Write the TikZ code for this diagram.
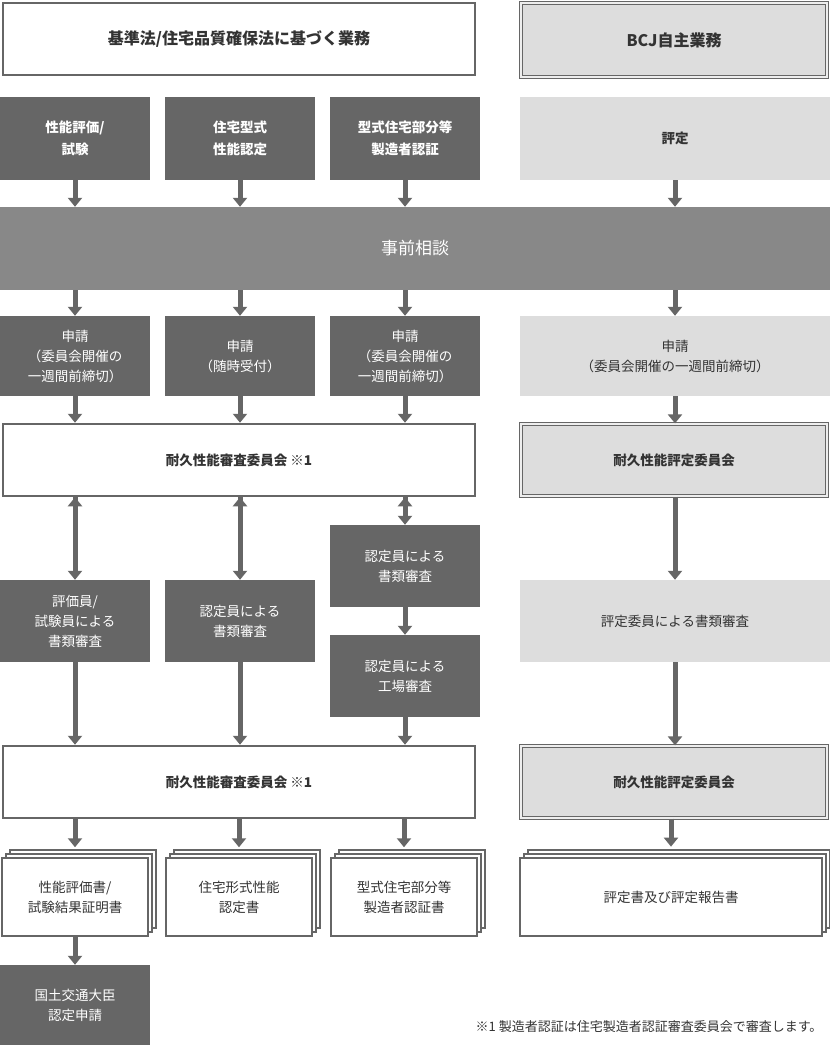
\documentclass[tikz,border=0pt]{standalone}
\usepackage{fontspec}
\setmainfont{Noto Sans CJK JP}
\usetikzlibrary{arrows.meta,shadows}
\definecolor{dk}{HTML}{666666}
\definecolor{md}{HTML}{888888}
\definecolor{lt}{HTML}{DDDDDD}
\definecolor{tx}{HTML}{333333}
\tikzset{
  box/.style={inner sep=0pt, align=center, font=\fontsize{13.5}{20}\selectfont},
  darkbox/.style={box, fill=dk, text=white, font=\bfseries\fontsize{13.5}{22}\selectfont},
  darkplain/.style={box, fill=dk, text=white},
  litebox/.style={box, fill=lt, text=tx},
  whitebox/.style={box, draw=dk, line width=2.5pt, fill=white, text=tx, font=\bfseries\fontsize{13.5}{20}\selectfont},
  dblbox/.style={box, draw=dk, fill=lt, text=tx, line width=1.3pt, double=lt!50!white, double distance=1.3pt, font=\bfseries\fontsize{13.5}{20}\selectfont},
  docbox/.style={box, draw=dk, line width=2pt, fill=white, text=tx,
    double copy shadow={shadow xshift=4pt, shadow yshift=4pt, draw=dk, line width=1.5pt, fill=white}},
  flow/.style={draw=dk, line width=5pt, -{Triangle[width=14pt,length=9pt]}},
}
\begin{document}
\begin{tikzpicture}[x=1pt,y=-1pt]
  \useasboundingbox (0,0) rectangle (830,1045);

  % headers
  \node[whitebox, minimum width=472, minimum height=72, font=\bfseries\fontsize{16}{20}\selectfont] (hl) at (239,39) {基準法/住宅品質確保法に基づく業務};
  \node[dblbox, minimum width=306, minimum height=74, font=\bfseries\fontsize{16}{20}\selectfont] (hr) at (674,40) {BCJ自主業務};

  % kinds of work
  \node[darkbox, minimum width=150, minimum height=83] (k1) at (75,138.5) {性能評価/\\試験};
  \node[darkbox, minimum width=150, minimum height=83] (k2) at (240,138.5) {住宅型式\\性能認定};
  \node[darkbox, minimum width=150, minimum height=83] (k3) at (405,138.5) {型式住宅部分等\\製造者認証};
  \node[litebox, minimum width=310, minimum height=83, font=\bfseries\fontsize{13.5}{20}\selectfont] (k4) at (675,138.5) {評定};

  \node[box, fill=md, text=white, minimum width=830, minimum height=83, font=\fontsize{17}{20}\selectfont] (pre) at (415,248.5) {事前相談};

  % applications
  \node[darkplain, minimum width=150, minimum height=80] (a1) at (75,356) {申請\\（委員会開催の\\一週間前締切）};
  \node[darkplain, minimum width=150, minimum height=80] (a2) at (240,356) {申請\\（随時受付）};
  \node[darkplain, minimum width=150, minimum height=80] (a3) at (405,356) {申請\\（委員会開催の\\一週間前締切）};
  \node[litebox, minimum width=310, minimum height=80] (a4) at (675,356) {申請\\（委員会開催の一週間前締切）};

  % first committee
  \node[whitebox, minimum width=472, minimum height=72] (m1) at (239,460) {耐久性能審査委員会 ※1};
  \node[dblbox, minimum width=306, minimum height=72] (n1) at (674,460) {耐久性能評定委員会};

  % reviews
  \node[darkplain, minimum width=150, minimum height=82] (r1) at (75,621) {評価員/\\試験員による\\書類審査};
  \node[darkplain, minimum width=150, minimum height=82] (r2) at (240,621) {認定員による\\書類審査};
  \node[darkplain, minimum width=150, minimum height=82] (r3) at (405,566) {認定員による\\書類審査};
  \node[darkplain, minimum width=150, minimum height=82] (r5) at (405,676) {認定員による\\工場審査};
  \node[litebox, minimum width=310, minimum height=82] (r4) at (675,621) {評定委員による書類審査};

  % second committee
  \node[whitebox, minimum width=472, minimum height=72] (m2) at (239,782) {耐久性能審査委員会 ※1};
  \node[dblbox, minimum width=306, minimum height=72] (n2) at (674,782) {耐久性能評定委員会};

  % documents
  \node[docbox, minimum width=146, minimum height=78] (d1) at (75,897) {性能評価書/\\試験結果証明書};
  \node[docbox, minimum width=146, minimum height=78] (d2) at (239,897) {住宅形式性能\\認定書};
  \node[docbox, minimum width=146, minimum height=78] (d3) at (404,897) {型式住宅部分等\\製造者認証書};
  \node[docbox, minimum width=302, minimum height=78] (d4) at (671,897) {評定書及び評定報告書};

  \node[darkplain, minimum width=150, minimum height=80] (fin) at (75,1005) {国土交通大臣\\認定申請};

  \node[anchor=east, text=tx, font=\fontsize{13}{16}\selectfont] (note) at (826,1027) {※1 製造者認証は住宅製造者認証審査委員会で審査します。};

  % arrows
  \foreach \a/\b in {k1/a1,k2/a2,k3/a3,k4/a4}{
    \draw[flow] (\a.south) -- (\a.south |- pre.north);
    \draw[flow] (\a.south |- pre.south) -- (\b.north);
  }
  \foreach \a in {a1,a2,a3}{
    \draw[flow] (\a.south) -- (\a.south |- m1.north);
    \draw[flow] (\a.south |- m1.south) -- (\a.south |- m1.south) ++(0,0);
  }
  \draw[flow] (a4.south) -- (a4.south |- n1.north);
  \draw[flow] (r1.north |- m1.south) -- (r1.north);
  \draw[flow] (r2.north |- m1.south) -- (r2.north);
  \draw[flow] (r3.north |- m1.south) -- (r3.north);
  \draw[flow] (r3.south) -- (r5.north);
  \draw[flow] (r4.north |- n1.south) -- (r4.north);
  \draw[flow] (r1.south) -- (r1.south |- m2.north);
  \draw[flow] (r2.south) -- (r2.south |- m2.north);
  \draw[flow] (r5.south) -- (r5.south |- m2.north);
  \draw[flow] (r4.south) -- (r4.south |- n2.north);
  \draw[flow] (d1.north |- m2.south) -- ++(0,28);
  \draw[flow] (d2.north |- m2.south) -- ++(0,28);
  \draw[flow] (d3.north |- m2.south) -- ++(0,28);
  \draw[flow] (d4.north |- n2.south) -- ++(0,28);
  \draw[flow] (d1.south) -- (fin.north);
\end{tikzpicture}
\end{document}
